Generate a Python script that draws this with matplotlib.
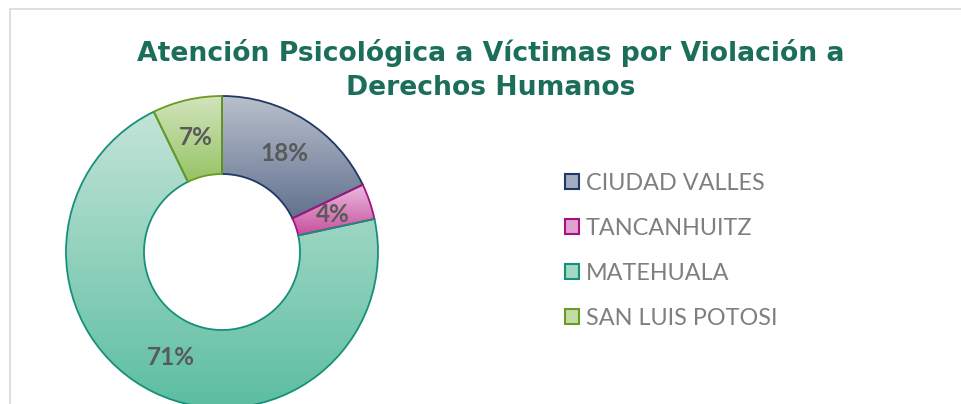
import matplotlib
matplotlib.use('Agg')
import matplotlib.pyplot as plt
import numpy as np
from matplotlib.colors import LinearSegmentedColormap
from matplotlib.patches import Patch, Rectangle

# data (shares, %)
categories = ['CIUDAD VALLES', 'TANCANHUITZ', 'MATEHUALA', 'SAN LUIS POTOSI']
values = [17.9, 3.7, 71.2, 7.2]

title = 'Atención Psicológica a Víctimas por Violación a\nDerechos Humanos'

# top / bottom gradient colours and edges
top_colors = ['#b9c1cd', '#e9bde0', '#c4e4d8', '#d2e4bd']
bottom_colors = ['#62718e', '#c8509d', '#5bbea0', '#95c364']
edge_colors = ['#1f3864', '#a3147f', '#17907a', '#6b9a20']

W, H = 962, 404
fig = plt.figure(figsize=(W / 100, H / 100), dpi=100)
ax = fig.add_axes([0, 0, 1, 1])

cx, cy, r_out, r_in = 222, H - 252, 156, 78

wedges, texts, autotexts = ax.pie(
	values, center=(cx, cy), radius=r_out, startangle=90, counterclock=False,
	autopct='%.0f%%', pctdistance=0.75,
	wedgeprops=dict(width=r_out - r_in, linewidth=1.3, facecolor='none'),
	textprops=dict(fontfamily='Lato', fontweight='bold', fontsize=17.5, color='#595959'))

for w, top, bot, ec in zip(wedges, top_colors, bottom_colors, edge_colors):
	w.set_facecolor('none')
	w.set_edgecolor(ec)
	w.set_zorder(3)
	ext = w.get_path().get_extents()
	cmap = LinearSegmentedColormap.from_list('g', [bot, top])
	grad = np.linspace(0, 1, 256).reshape(-1, 1)
	im = ax.imshow(grad, cmap=cmap, origin='lower', aspect='auto',
				   extent=(ext.x0, ext.x1, ext.y0, ext.y1), zorder=2)
	im.set_clip_path(w)

for t in autotexts:
	t.set_zorder(4)

ax.set_xlim(0, W)
ax.set_ylim(0, H)
ax.set_aspect('auto')
ax.axis('off')

# chart border (cut off right and bottom)
ax.add_patch(Rectangle((10, -20), W + 30, H - 9 + 20, fill=False, edgecolor='#d9d9d9', linewidth=1.2, zorder=1))

fig.text(491 / W, 1 - 95 / H, title, ha='center', va='baseline', fontsize=19.2, fontweight='bold',
		 color='#1b6f5a', fontfamily='DejaVu Sans', linespacing=1.42)

handles = [Patch(facecolor=c, edgecolor=e, linewidth=1.5) for c, e in zip(
	['#a3adbf', '#e0a3cf', '#a3d8c5', '#c2dca3'], edge_colors)]
leg = fig.legend(handles, categories, loc='center left', bbox_to_anchor=(544 / W, 1 - 251 / H),
				 frameon=False, handlelength=0.6, handleheight=0.6,
				 handletextpad=0.3, labelspacing=1.03, prop=dict(family='Lato', size=16.8))
for t in leg.get_texts():
	t.set_color('#7f7f7f')

fig.savefig('out.png', dpi=100)
